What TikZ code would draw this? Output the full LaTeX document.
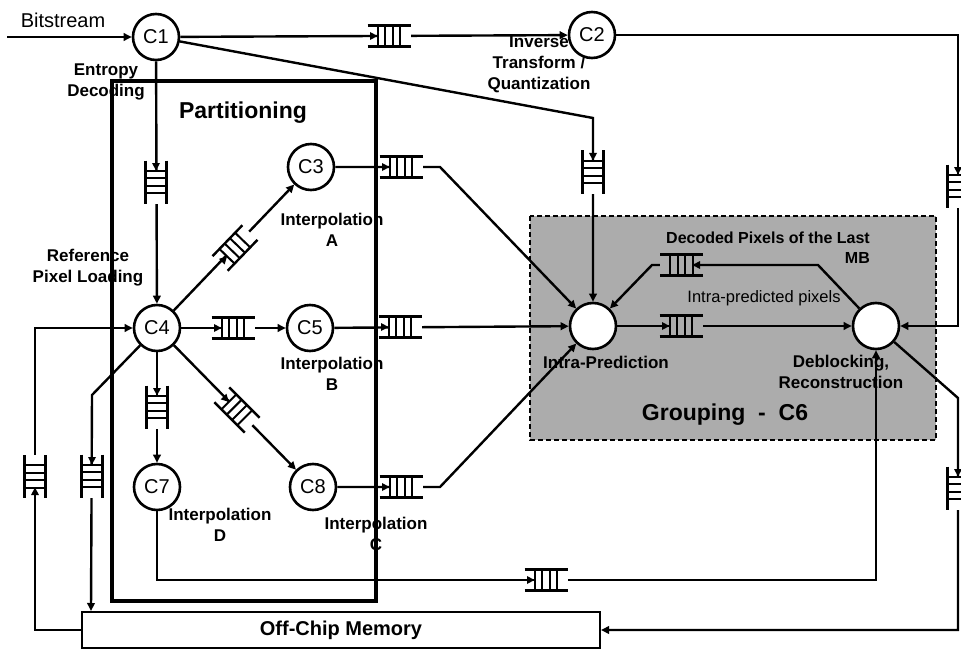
\documentclass[tikz,border=0pt]{standalone}
\usepackage{fontspec}
\setmainfont{Liberation Sans}
\usepackage{xcolor}
\usepackage{tikz}
\usetikzlibrary{arrows.meta, positioning}
\definecolor{groupbg}{RGB}{172,172,172}

\tikzset{
  proc/.style={circle, draw, line width=2.6pt, fill=white, minimum size=46pt, inner sep=0pt, font=\fontsize{20}{22}\selectfont},
  lbl/.style={font=\bfseries\fontsize{17}{21}\selectfont, align=center, inner sep=0pt},
  grptitle/.style={font=\bfseries\fontsize{23}{26}\selectfont, inner sep=0pt},
  flow/.style={line width=2.4pt, -{Triangle[length=8pt,width=7.5pt]}},
  queue/.pic={
    \fill[#1] (-11.5,-10.5) rectangle (21.5,10.5);
    \draw[line width=2.4pt] (-21.5,-10.5) -- (21.5,-10.5) (-21.5,10.5) -- (21.5,10.5);
    \foreach \k in {-11.5,-4,3.5,11}
      \draw[line width=2pt] (\k,-10.5) -- (\k,10.5);
    \fill (-11.5,0) -- (-19,4) -- (-19,-4) -- cycle;
  }
}

\begin{document}
\begin{tikzpicture}[x=1pt, y=-1pt]
\useasboundingbox (0,0) rectangle (961,650);

% grouping area
\draw[fill=groupbg, line width=1.6pt, dash pattern=on 5pt off 3pt] (530,216) rectangle (936,440);

% labels
\node[font=\fontsize{20}{22}\selectfont, inner sep=0pt] (bsL) at (63,20) {Bitstream};
\node[lbl] (edL) at (106,82) {Entropy\\Decoding};
\node[grptitle] (partL) at (243,113) {Partitioning};
\node[lbl] (itqL) at (539,64) {Inverse\\Transform /\\Quantization};
\node[lbl] (rplL) at (88,268) {Reference\\Pixel Loading};
\node[lbl] (iaL) at (332,230) {Interpolation\\A};
\node[lbl] (ibL) at (332,374) {Interpolation\\B};
\node[lbl] (idL) at (220,525) {Interpolation\\D};
\node[lbl] (icL) at (376,534) {Interpolation\\C};
\node[lbl] (ipL) at (606,362) {Intra-Prediction};
\node[lbl] (debL) at (841,372) {Deblocking,\\Reconstruction};
\node[grptitle] (grpL) at (725,415) {Grouping\ \ -\ \ C6};
\node[lbl, align=right, anchor=east, font=\bfseries\fontsize{16}{20}\selectfont] (dpL) at (870,248) {Decoded Pixels of the Last\\MB};
\node[inner sep=0pt, font=\fontsize{16.5}{20}\selectfont] (ippL) at (764,298) {Intra-predicted pixels};

% processes
\node[proc] (c1) at (156,37) {C1};
\node[proc] (c2) at (592,35) {C2};
\node[proc] (c3) at (311,167) {C3};
\node[proc] (c4) at (157,328) {C4};
\node[proc] (c5) at (310,328) {C5};
\node[proc] (c7) at (157,487) {C7};
\node[proc] (c8) at (313,487) {C8};
\node[proc] (ip) at (593,326) {};
\node[proc] (deb) at (876,326) {};
\node[draw, line width=2pt, minimum width=518pt, minimum height=36pt, inner sep=0pt,
  font=\bfseries\fontsize{20}{22}\selectfont] (mem) at (341,630) {Off-Chip Memory};

% bends
\coordinate (bsin) at (7,37);
\coordinate (k1) at (593,118);
\coordinate (k2a) at (958,35);
\coordinate (k2b) at (958,326);
\coordinate (k3) at (440,167);
\coordinate (k8) at (440,487);
\coordinate (fba) at (818,265);
\coordinate (fbb) at (652,265);
\coordinate (dma) at (958,398);
\coordinate (dmb) at (958,630);
\coordinate (c7a) at (157,580);
\coordinate (c7b) at (876,580);
\coordinate (c4a) at (92,395);
\coordinate (mca) at (35,630);
\coordinate (mcb) at (35,328);

% connectors
\draw[flow] (bsin) -- (c1);
\draw[flow] (c1) -- (c2);
\draw[flow] (c1) -- (k1) -- (ip);
\draw[flow] (c2) -- (k2a) -- (k2b) -- (deb);
\draw[flow] (c1) -- (c4);
\draw[flow] (c4) -- (c3);
\draw[flow] (c4) -- (c5);
\draw[flow] (c4) -- (c8);
\draw[flow] (c4) -- (c7);
\draw[flow] (c3) -- (k3) -- (ip);
\draw[flow] (c5) -- (ip);
\draw[flow] (c8) -- (k8) -- (ip);
\draw[flow] (ip) -- (deb);
\draw[flow] (deb) -- (fba) -- (fbb) -- (ip);
\draw[flow] (deb) -- (dma) -- (dmb) -- (mem);
\draw[flow] (c7) -- (c7a) -- (c7b) -- (deb);
\draw[flow] (c4) -- (c4a) -- ([xshift=10pt]mem.north west);
\draw[flow] (mem.west) -- (mca) -- (mcb) -- (c4);

% queues
\pic at (389,36) {queue=white};
\pic[rotate=-90] at (593,172) {queue=white};
\pic[rotate=-90] at (156,182) {queue=white};
\pic[rotate=46] at (235,248) {queue=white};
\pic at (233,328) {queue=white};
\pic[rotate=-45] at (237,410) {queue=white};
\pic[rotate=-90] at (157,407) {queue=white};
\pic at (401,167) {queue=white};
\pic at (400,327) {queue=white};
\pic at (401,487) {queue=white};
\pic at (681,326) {queue=groupbg};
\pic[rotate=180] at (681,265) {queue=groupbg};
\pic[rotate=-90] at (958,186) {queue=white};
\pic[rotate=-90] at (958,488) {queue=white};
\pic at (546,580) {queue=white};
\pic[rotate=-90] at (92,476) {queue=white};
\pic[rotate=90] at (35,476) {queue=white};

% partitioning
\draw[line width=3.8pt] (112,81) rectangle (376,601);
\end{tikzpicture}
\end{document}
